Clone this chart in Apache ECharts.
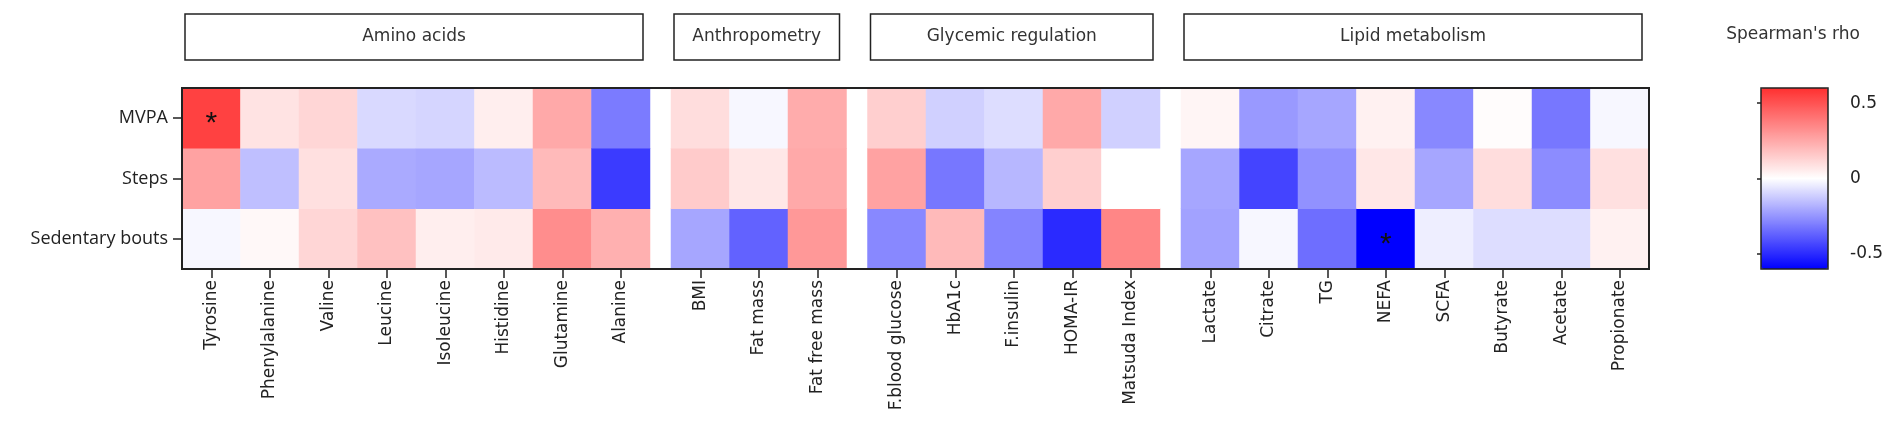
<!DOCTYPE html>
<html>
<head>
<meta charset="utf-8">
<script src="https://cdn.jsdelivr.net/npm/echarts@6/dist/echarts.min.js"></script>
<style>
  html, body { margin: 0; background: #fff; }
  #main { width: 1902px; height: 429px; }
</style>
</head>
<body>
<div id="main"></div>
<script>
// ---- data ----
const groupNames = ['Amino acids', 'Anthropometry', 'Glycemic regulation', 'Lipid metabolism'];
const aminoAcids = ['Tyrosine', 'Phenylalanine', 'Valine', 'Leucine', 'Isoleucine', 'Histidine', 'Glutamine', 'Alanine'];
const anthropometry = ['BMI', 'Fat mass', 'Fat free mass'];
const glycemic = ['F.blood glucose', 'HbA1c', 'F.insulin', 'HOMA-IR', 'Matsuda Index'];
const lipids = ['Lactate', 'Citrate', 'TG', 'NEFA', 'SCFA', 'Butyrate', 'Acetate', 'Propionate'];
const activityRows = ['MVPA', 'Steps', 'Sedentary bouts'];

// Spearman's rho, in the column order above
const mvpa = [0.55, 0.08, 0.12, -0.09, -0.10, 0.05, 0.25, -0.31,
              0.10, -0.02, 0.24,
              0.14, -0.11, -0.08, 0.25, -0.11,
              0.03, -0.24, -0.21, 0.04, -0.28, 0.01, -0.32, -0.02];
const steps = [0.27, -0.15, 0.09, -0.20, -0.21, -0.16, 0.20, -0.46,
               0.15, 0.07, 0.25,
               0.27, -0.32, -0.17, 0.14, 0.00,
               -0.21, -0.44, -0.26, 0.07, -0.21, 0.10, -0.27, 0.09];
const sedentaryBouts = [-0.02, 0.02, 0.12, 0.18, 0.05, 0.06, 0.33, 0.23,
                        -0.21, -0.37, 0.30,
                        -0.28, 0.20, -0.29, -0.50, 0.35,
                        -0.22, -0.02, -0.34, -0.60, -0.04, -0.08, -0.08, 0.04];
const significant = [['MVPA', 'Tyrosine'], ['Sedentary bouts', 'NEFA']];
const colorbarTicks = [-0.5, 0, 0.5];

// ---- layout ----
const groupItems = [aminoAcids, anthropometry, glycemic, lipids];
const rowValues = { 'MVPA': mvpa, 'Steps': steps, 'Sedentary bouts': sedentaryBouts };
const rowsBottomUp = activityRows.slice().reverse();
const cellW = 58.5, gapW = 21;
const plotLeft = 182, plotTop = 88, plotH = 181;
const axisColor = '#222';
const tickStyle = () => ({ show: true, alignWithLabel: true, length: 9, lineStyle: { color: axisColor, width: 1.5 } });

const chart = echarts.init(document.getElementById('main'));

const grids = [], xAxes = [], yAxes = [], series = [], graphics = [];
let offset = 0, col = 0;

groupItems.forEach((items, g) => {
  const left = plotLeft + offset;
  const width = items.length * cellW;
  grids.push({ left: left, top: plotTop, width: width, height: plotH });
  xAxes.push({
    type: 'category', gridIndex: g, data: items,
    axisLine: { show: true, lineStyle: { color: axisColor, width: 2 } },
    axisTick: tickStyle(),
    axisLabel: { rotate: 90, interval: 0, margin: 11, fontFamily: 'DejaVu Sans', fontSize: 17, color: '#222' },
    splitLine: { show: false }
  });
  yAxes.push({
    type: 'category', gridIndex: g, data: rowsBottomUp, show: g === 0,
    axisLine: { show: true, lineStyle: { color: axisColor, width: 2 } },
    axisTick: tickStyle(),
    axisLabel: { margin: 14, fontFamily: 'Open Sans', fontSize: 18, color: '#222' },
    splitLine: { show: false }
  });

  const data = [];
  items.forEach((name, i) => {
    rowsBottomUp.forEach((row, r) => {
      data.push([i, r, rowValues[row][col + i]]);
    });
  });
  series.push({
    type: 'heatmap', xAxisIndex: g, yAxisIndex: g, data: data,
    label: {
      show: true, fontSize: 30, color: '#111', offset: [0, 6],
      formatter: p => significant.some(s => s[0] === rowsBottomUp[p.value[1]] && s[1] === items[p.value[0]]) ? '*' : ''
    },
    emphasis: { disabled: true }
  });

  graphics.push({
    type: 'rect', shape: { x: left + 3, y: 14, width: width - 10, height: 46 },
    style: { fill: '#fff', stroke: axisColor, lineWidth: 1.5 }
  });
  graphics.push({
    type: 'text', x: left + 3 + (width - 10) / 2, y: 37,
    style: { text: groupNames[g], fill: '#333', font: '17px "DejaVu Sans"', textAlign: 'center', textVerticalAlign: 'middle' }
  });

  col += items.length;
  offset += width + gapW;
});

// outer frame around all groups
const frameIdx = grids.length;
grids.push({ left: plotLeft, top: plotTop, width: offset - gapW, height: plotH,
  show: true, borderColor: axisColor, borderWidth: 2, backgroundColor: 'transparent', z: 10 });
xAxes.push({ type: 'value', gridIndex: frameIdx, show: false });
yAxes.push({ type: 'value', gridIndex: frameIdx, show: false });

// colour bar axis
const cbIdx = grids.length;
const cb = { left: 1761, top: 88, width: 67, height: 181 };
grids.push(Object.assign({ show: true, borderColor: axisColor, borderWidth: 1.5, backgroundColor: 'transparent', z: 10 }, cb));
xAxes.push({ type: 'value', gridIndex: cbIdx, show: false });
['right', 'left'].forEach(pos => {
  yAxes.push({
    type: 'value', gridIndex: cbIdx, position: pos, min: -0.6, max: 0.6,
    axisLine: { show: false }, splitLine: { show: false },
    axisTick: { show: true, inside: true, length: 4, customValues: colorbarTicks, lineStyle: { color: axisColor, width: 1.5 } },
    axisLabel: { show: pos === 'right', customValues: colorbarTicks, margin: 22, fontFamily: 'DejaVu Sans', fontSize: 17, color: '#222' }
  });
});

graphics.push({
  type: 'text', x: 1793, y: 35,
  style: { text: "Spearman's rho", fill: '#333', font: '17px "DejaVu Sans"', textAlign: 'center', textVerticalAlign: 'middle' }
});

chart.setOption({
  animation: false,
  grid: grids,
  xAxis: xAxes,
  yAxis: yAxes,
  visualMap: {
    type: 'continuous', min: -0.6, max: 0.6, calculable: false,
    seriesIndex: [0, 1, 2, 3],
    left: cb.left, top: cb.top, itemWidth: cb.width, itemHeight: cb.height, padding: 0,
    inRange: { color: ['#0000ff', '#ffffff', '#ff3030'] }
  },
  graphic: graphics,
  series: series
});
</script>
</body>
</html>
